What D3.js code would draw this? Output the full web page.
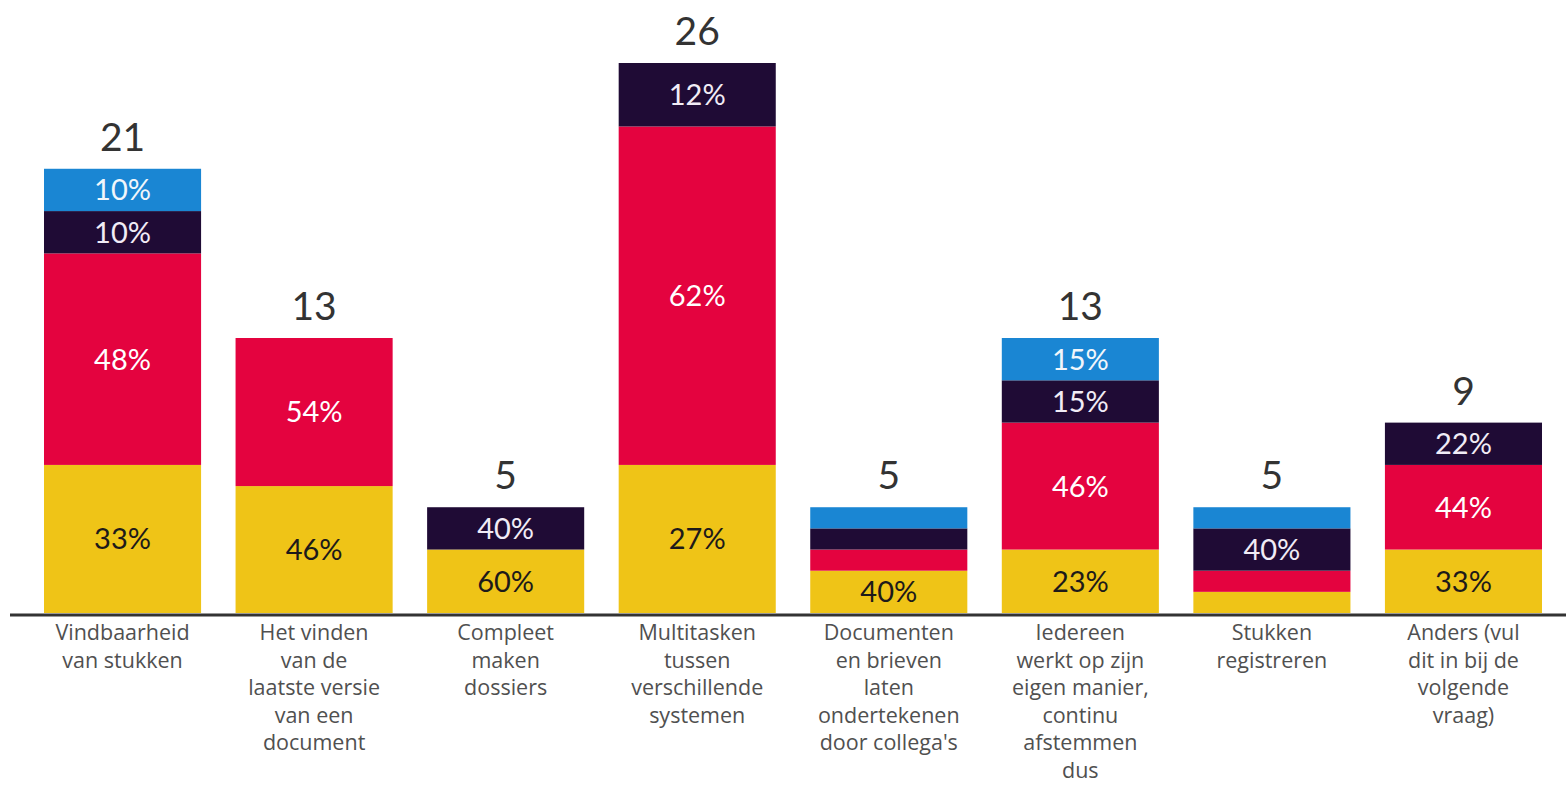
<!DOCTYPE html>
<html>
<head>
<meta charset="utf-8">
<script src="https://cdn.jsdelivr.net/npm/d3@7/dist/d3.min.js"></script>
<style>
  html, body { margin: 0; padding: 0; background: #fff; }
  svg { display: block; }
  text { font-family: Lato, "Noto Sans", sans-serif; }
  text.cat { font-family: "Open Sans", "Noto Sans", sans-serif; }
</style>
</head>
<body>
<svg id="chart" width="1566" height="785"></svg>
<script>
// ---- Data ----
const categories = [
  "Vindbaarheid van stukken",
  "Het vinden van de laatste versie van een document",
  "Compleet maken dossiers",
  "Multitasken tussen verschillende systemen",
  "Documenten en brieven laten ondertekenen door collega's",
  "Iedereen werkt op zijn eigen manier, continu afstemmen dus",
  "Stukken registreren",
  "Anders (vul dit in bij de volgende vraag)"
];
const categoryLines = [
  ["Vindbaarheid", "van stukken"],
  ["Het vinden", "van de", "laatste versie", "van een", "document"],
  ["Compleet", "maken", "dossiers"],
  ["Multitasken", "tussen", "verschillende", "systemen"],
  ["Documenten", "en brieven", "laten", "ondertekenen", "door collega's"],
  ["Iedereen", "werkt op zijn", "eigen manier,", "continu", "afstemmen", "dus"],
  ["Stukken", "registreren"],
  ["Anders (vul", "dit in bij de", "volgende", "vraag)"]
];
const seriesKeys = ["yellow", "red", "dark", "blue"];
const yellowValues = [7, 6, 3, 7, 2, 3, 1, 3];
const redValues    = [10, 7, 0, 16, 1, 6, 1, 4];
const darkValues   = [2, 0, 2, 3, 1, 2, 2, 2];
const blueValues   = [2, 0, 0, 0, 1, 2, 1, 0];

const colors = { yellow: "#efc417", red: "#e4033f", dark: "#1f0b35", blue: "#1a86d3" };
const labelColors = { yellow: "#1d1a1a", red: "#fff", dark: "#f1ecf6", blue: "#f1f6fb" };

// ---- Build rows ----
const rows = categories.map((c, i) => ({
  cat: c,
  yellow: yellowValues[i],
  red: redValues[i],
  dark: darkValues[i],
  blue: blueValues[i],
  total: yellowValues[i] + redValues[i] + darkValues[i] + blueValues[i]
}));

const svg = d3.select("#chart");
const x = d3.scaleBand().domain(categories).range([44, 1542]).paddingInner(0.18).paddingOuter(0);
const yMax = d3.max(rows, d => d.total);
const y = d3.scaleLinear().domain([0, yMax]).range([613, 63]);

const stacked = d3.stack().keys(seriesKeys)(rows);

const g = svg.append("g");
stacked.forEach(layer => {
  const key = layer.key;
  layer.forEach(seg => {
    const v = seg[1] - seg[0];
    if (v <= 0) return;
    const cat = seg.data.cat;
    g.append("rect")
      .attr("x", x(cat))
      .attr("y", y(seg[1]))
      .attr("width", x.bandwidth())
      .attr("height", y(seg[0]) - y(seg[1]))
      .attr("fill", colors[key]);
    if (v >= 2) {
      const pct = Math.round(v / seg.data.total * 100);
      g.append("text")
        .attr("x", x(cat) + x.bandwidth() / 2)
        .attr("y", (y(seg[0]) + y(seg[1])) / 2)
        .attr("dy", "0.36em")
        .attr("text-anchor", "middle")
        .attr("font-size", 29)
        .attr("fill", labelColors[key])
        .text(pct + "%");
    }
  });
});

// totals
g.selectAll(".total").data(rows).enter().append("text")
  .attr("class", "total")
  .attr("x", d => x(d.cat) + x.bandwidth() / 2)
  .attr("y", d => y(d.total) - 18)
  .attr("text-anchor", "middle")
  .attr("font-size", 39)
  .attr("fill", "#333")
  .text(d => d.total);

// baseline axis
const axis = d3.axisBottom(x).tickSize(0).tickFormat("");
const axG = svg.append("g").attr("transform", "translate(0,615)").call(axis);
axG.select(".domain").remove();
axG.append("line").attr("x1", 10).attr("x2", 1566).attr("y1", 0).attr("y2", 0)
  .attr("stroke", "#333").attr("stroke-width", 3);

// category labels
categories.forEach((c, i) => {
  const t = svg.append("text")
    .attr("class", "cat")
    .attr("x", x(c) + x.bandwidth() / 2)
    .attr("y", 640)
    .attr("text-anchor", "middle")
    .attr("font-size", 21.5)
    .attr("fill", "#505050");
  categoryLines[i].forEach((line, j) => {
    t.append("tspan").attr("x", x(c) + x.bandwidth() / 2).attr("dy", j === 0 ? 0 : 27.5).text(line);
  });
});
</script>
</body>
</html>
